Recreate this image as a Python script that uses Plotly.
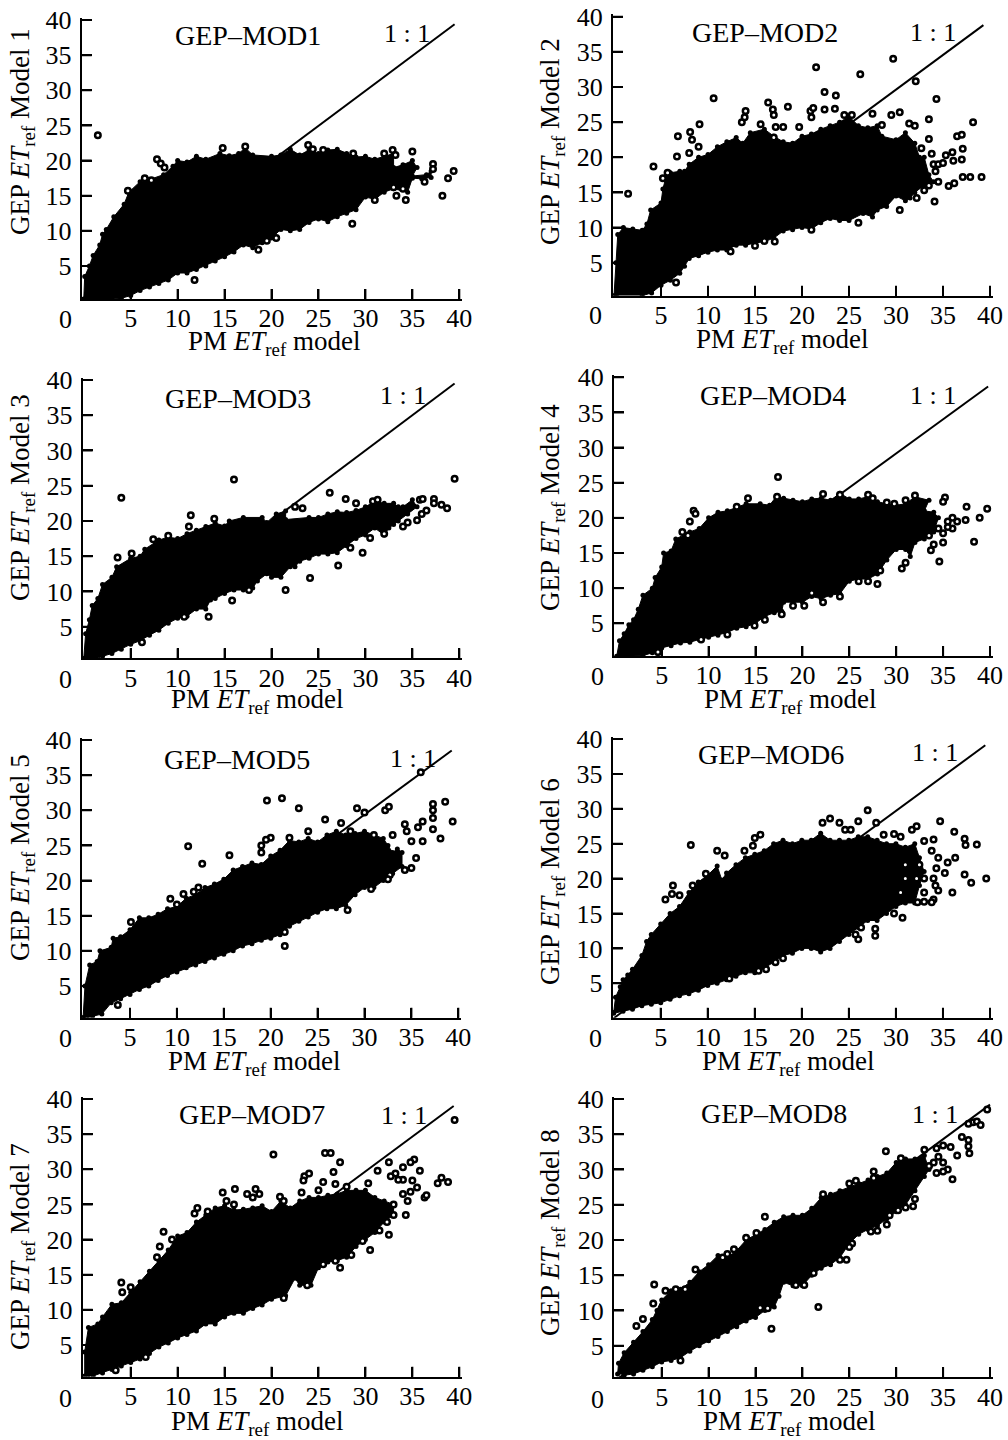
import plotly.graph_objects as go

# --- values: cloud outlines (x, y) and separate open points (x, y) ---
mod1_outline = [(0,0.3),(0.1,3.5),(0.6,5),(1,6.5),(1.7,8),(2,9.5),(2.4,10.2),(3.2,12),(4.3,13.8),(4.8,15.5),(6,17),(7,17.3),(8.5,18),(9.5,19.2),(10,20),(11,19.8),(12,20.6),(13,20.2),(14.5,21),(15.5,20.7),(16.5,21),(17.2,21.8),(18,20.8),(20,20.6),(21,20.8),(22,21.6),(23,20.8),(24,21.5),(25,21),(26,21.5),(27,21.6),(28,21),(29,20.5),(30,20.6),(31,20.2),(32,20.6),(33,21),(33,19),(34,19.4),(35,20),(35.5,19),(35,17.8),(36.5,18),(37,18.5),(37,17.6),(36,17.4),(35,17.5),(34.5,15.5),(33,16),(32,15.5),(31,14.5),(30,14.8),(29,13),(28,12.5),(27,12),(26,11.3),(25,11.7),(24,11.2),(23,10.2),(22,10),(21,10.2),(20,9),(19,8.3),(18,7.6),(17,8),(16,7),(15,6.3),(14,5.7),(13,5),(12,4.5),(11,4),(10,4),(9,3),(8,2.5),(7,2),(6,1.5),(5,0.8),(4,0.4),(3,0.3)]
mod1_points = [(1.5,23.6),(7.8,20.2),(8.2,19.6),(8.6,19),(14.8,21.8),(17.2,22),(23.9,22.2),(24.4,21.6),(25.5,21.5),(28.7,21),(32.9,21.5),(35,21.3),(33.2,20.8),(37.2,19.5),(39.4,18.5),(38.8,17.5),(37.2,18.8),(36.3,17),(38.2,15),(33.3,15),(34.3,14.4),(34,16),(31,14.4),(28.6,11),(18.6,7.3),(11.8,3),(19.5,8.6),(20.5,9),(4.7,15.7),(6.5,17.5),(7.2,17.2),(33,16.2),(32,21)]

mod2_outline = [(0,0.3),(0.2,5),(0.4,9),(1,10),(2,9.8),(3,9.6),(3.5,10.5),(3.9,12.5),(5,13.5),(5.2,15.5),(5.5,17),(6,17.8),(7,18),(7.5,18),(8,19),(9,20),(10,20.4),(11,21.5),(12,22.2),(13,22.8),(13.7,22),(14.5,23.5),(16,24),(17,23),(18,22.2),(19,22),(20,23),(21,23.3),(22,24),(23,24.5),(24,25),(25,25.8),(26,24.5),(27,24.2),(28,24.5),(28.5,23),(30,22.5),(31,23.5),(32,22),(32.5,20),(33,20),(33.5,17.5),(34,16.5),(33,16),(32,15),(31.5,14.2),(31,13.8),(30,14.5),(29,13),(28,12.5),(27.5,11.5),(26.5,12),(25,11),(24,11),(23,11.3),(22,10.7),(21,9.8),(20,10),(19,9.7),(18,9.5),(17,8.5),(16,8),(15,7.8),(14,7.5),(13,7.5),(12,6.8),(11,6.8),(10,6.5),(9,6),(8,5.6),(7.5,4.5),(7,3.5),(6,2.5),(5,1.8),(4,0.7),(3,0.3)]
mod2_points = [(1.5,14.8),(4.2,18.7),(5.2,17),(5.7,17.8),(6.7,20.1),(6.8,23),(8.1,23.6),(8.3,22.5),(8,20.6),(9.1,24.7),(9,21.5),(10.6,28.4),(13.6,25),(13.9,25.7),(14,26.6),(16.4,27.8),(15.6,24.7),(16.9,26.8),(17,26),(17,22.8),(18.5,27.2),(17.2,24.3),(18,24.3),(19.7,24.3),(20.9,26.6),(21.2,27),(21,25.7),(21.5,32.8),(22.4,29.3),(23.6,28.8),(22.4,26.8),(23.5,26.9),(24.5,26),(25.3,26),(26.2,31.8),(27.5,26.2),(28.5,24.6),(29.5,26),(30.4,26.4),(31.4,24.8),(32,24.5),(32.1,30.8),(34.3,28.3),(33.5,25.4),(33.5,22.6),(32.7,21.3),(29.7,34),(36.5,23),(37,23.2),(37.1,21.2),(37,19.7),(38.2,25),(35.3,20.3),(36,20.7),(36.1,19.5),(39.1,17.2),(37.1,17.2),(37.9,17.2),(36.2,16.3),(35.6,15.9),(34.1,13.7),(33,15.3),(32.2,14.2),(30.4,12.5),(26,10.7),(21,9.7),(17.1,8),(16,8.1),(15,7.4),(12.4,6.6),(6.6,2.2),(34,19),(34.5,19),(33.8,20.5),(35,19.2),(34.2,18),(33.5,16),(34.5,16.5)]

mod3_outline = [(0,0.5),(0.2,4),(0.6,6),(0.9,8),(1.5,9),(2,11),(3,12),(3.5,13.5),(5,14.7),(6,15),(6.5,16),(8,17.3),(9,17.7),(10,17.5),(11,18.2),(12,18.7),(13,19.2),(14,19.7),(15,19.3),(15.5,20),(17,20.5),(19,20.5),(19.5,19.8),(20.5,21),(21.5,21.4),(21.5,20.2),(24,20.5),(25,20.5),(26,21),(27,21.3),(28,21.2),(29,21.5),(30,22),(31,22.8),(32,22.5),(33,22.5),(33.5,22),(34,22),(35,23),(35.5,22),(34.5,21),(33.5,20),(33,19.5),(32.5,19),(32,18),(31,19),(30,18),(29,17.5),(28,16.5),(27,15.5),(26,15.3),(25,15.3),(24,14.7),(23,14.3),(22.5,13.5),(22,13.5),(21,12),(20,12),(19.5,12.5),(18.5,11.5),(18,10.5),(17,10.2),(16,10.2),(15,9.7),(14,9),(13.5,8.8),(13,7.5),(12,7.5),(11,6.5),(10,6.2),(9,5.5),(8,4.5),(7,3.8),(6,3),(5,2.5),(4,1.8),(3,1.2),(2,0.8),(1,0.3),(0,0.3)]
mod3_points = [(4,23.3),(16,25.9),(39.5,26),(26.2,24),(27.9,23.1),(29,22.5),(22.5,22),(23.3,21.8),(30.8,22.8),(31.3,23),(11.4,20.8),(13.9,20.3),(11.2,19.2),(9,17.9),(7.4,17.4),(5.1,15.4),(3.6,14.8),(35.8,23),(36.1,23.1),(37.3,23.1),(37.3,22.5),(38.1,22.3),(38.7,21.8),(36.5,21.5),(36,21),(35.5,20.1),(34.5,19.8),(34,19.2),(28.4,16.2),(29.7,15.5),(27.1,13.7),(24.1,11.9),(21.5,10.2),(15.8,8.7),(13.3,6.4),(10.7,6.4),(6.2,2.8),(17.6,10.2),(32,18.2),(30.5,17.6)]

mod4_outline = [(0.2,0.3),(0.5,2.5),(1,3.5),(1.5,4.8),(2,5.5),(2.5,7),(3,9),(4,10),(4.3,11.5),(5,13),(5.2,15),(6,15.3),(6.5,17),(8,18),(9,18.5),(10,20),(11,20.8),(12,21),(13,21.5),(14,22),(15.5,22),(16.5,21.8),(17.2,23),(18,22.8),(19,22.5),(20,22.3),(21,22.7),(22,22.8),(23,22.5),(24,23.5),(25,22.7),(26,22.7),(27,23),(28,22.3),(29,22),(30,21.8),(31,22),(32,23),(33.5,22.5),(33,21),(34,20.8),(34.5,20),(34,18),(33,17),(32,16.5),(31.5,14.5),(31,15.5),(30,15.5),(29,14),(28,12),(27,11.3),(26,11.3),(25,11),(24,9.2),(23,9),(22,8.5),(21,8.8),(20,8),(19,8),(18,8),(17.8,6.7),(17,6.5),(16,6),(15,5),(14,4.5),(13,4.3),(12,3.7),(11,3.3),(10,3),(9,2.7),(8,2.3),(7,2.2),(6,1.8),(5,1.5),(4,0.8),(3,0.4),(1,0.3)]
mod4_points = [(17.4,25.8),(17.3,23),(14.2,22.8),(13,21.6),(8.4,21),(8.6,20.6),(8,19.5),(7.2,18),(7.8,17.5),(22.2,23.4),(24,23.3),(27,23.3),(27.5,22.8),(29,22.2),(29.8,22),(31,22.5),(32,23.2),(35.2,22.9),(35,22.3),(37.5,21.6),(39.7,21.3),(38.9,20),(37.4,19.7),(36,20),(36.5,19.5),(36,18.5),(35.5,18.7),(35,17.8),(35,16.5),(34,16.2),(33.7,15.4),(38.3,16.6),(34.6,13.8),(30.6,12.8),(31,13.6),(28.3,12.5),(28,10.6),(27,11),(26,11),(24,8.8),(22.2,8),(21,9.3),(19,7.5),(20.2,7.5),(17.8,6.3),(16,5.5),(14.9,4.7),(12,3.4),(9.2,2.7),(4.6,0.9),(34.5,18.5),(33.5,17.5),(35.5,19.5)]

mod5_outline = [(0,0.5),(0.2,5),(0.7,8),(1.5,8.5),(1.8,10),(3,10.5),(3.2,11.8),(4,12),(5,13),(6,14.7),(7,14.7),(8,15.2),(9,16),(10,16.3),(11,17.5),(12,18),(13,19),(14,19.5),(15,20.2),(16,21.5),(17,22),(18,22.5),(19,22.3),(20,23.5),(21,24.3),(22,25.7),(23,25.5),(24,26),(25,25.5),(26,26.5),(27,27),(28,26.5),(29,26.7),(30,27),(31,26.5),(32,26),(32.5,25),(33,24),(33.5,24.5),(34,24),(34,22),(33,21),(32,20),(31,19),(30,19),(29,18),(28,16.5),(27,16),(26,16),(25,15.5),(24,14.8),(23,14.2),(22,13.5),(21,12.3),(20,11.8),(19,11.5),(18,11),(17,10.7),(16,10),(15,9.5),(14,9),(13,8.5),(12,8),(11,7.6),(10,7),(9,6.5),(8,5.8),(7,5),(6,4.5),(5,3.8),(4,3.2),(3,2.6),(2,1),(1,0.7),(0,0.5)]
mod5_points = [(3.7,2.3),(21.5,10.7),(21.5,12.7),(28.2,15.8),(30.7,18.8),(11.2,24.9),(12.7,22.4),(15.6,23.6),(19.6,31.4),(21.2,31.7),(23,30.3),(25.8,28.7),(29.2,30.3),(30,29.7),(32.2,30),(32.6,30.5),(27.5,28.2),(28.5,27),(20,26.1),(19,25),(19.5,25.8),(19,24),(22,26.1),(24,27),(37.3,30.9),(37.3,30),(37.3,28.9),(38.6,31.2),(39.4,28.4),(37.3,27.3),(38.1,26),(36.2,28.4),(35.7,27.6),(34.3,28),(34.5,27),(35,25.6),(36.2,25.6),(35.5,23.2),(35,21.8),(34.3,21.5),(32.7,20.8),(32.5,20.2),(33,26.5),(9.3,17.4),(10.7,18.1),(10,16.6),(11.8,18.4),(12.3,19),(5.1,14.1),(36,35.4),(31,26.5)]

mod6_outline = [(0,0.8),(0.2,3),(0.7,4.5),(1,5.5),(1.5,6.2),(2,7),(3,9),(3.5,11),(4,12),(5,13.5),(6,15),(7,16),(8,18),(9,19.5),(10,20.5),(11,21.8),(11.5,19.8),(12,20.8),(13,22),(14,23),(15,23.5),(16,24),(17,25),(18,25.5),(19,25),(20,25.5),(21,25.5),(22,26.5),(23,25.5),(24,25.5),(25,25.5),(26,26),(27,26),(28,25.5),(29,25),(30,25),(31,24.5),(32,25),(32.5,23),(33,21),(32.5,19),(32,16.5),(31,16.5),(30,16),(29,15),(28,14),(27,14),(26,13),(25,12),(24,11),(23,10),(22,9.5),(21,10),(20,10),(19,9.3),(18,9),(17,8),(16,7.2),(15,6.5),(14,6.5),(13,6),(12,5.5),(11,5),(10,4.7),(9,4),(8,3.5),(7,3.2),(6,2.7),(5,2.2),(4,2),(3,1.8),(2,1.3),(1,1),(0,0.7)]
mod6_points = [(8.2,24.8),(11,24),(11.8,23.3),(13.9,24),(14.8,24.7),(15,25.8),(15.6,26.3),(6.3,19),(7,17.6),(5.5,17),(6.2,17.8),(8.4,19),(9.8,20.7),(23,28.6),(22.2,28),(24,28),(24.6,27),(25.2,27),(26,28.2),(27,29.8),(27.9,28),(28.7,26.3),(29.8,26.4),(30.5,26),(31.7,27),(32.2,27.5),(33,25.4),(34.7,28.2),(34,25.6),(36.2,26.7),(37.3,25.7),(37.4,24.8),(38.6,24.9),(37.3,20.6),(38,19.4),(39.6,20),(36,18),(34.5,18.3),(34,17),(33.8,16.6),(33,16.7),(32.3,16.6),(30.7,14.4),(29.8,15),(27.8,12.8),(27.8,11.8),(26,11.3),(25.7,12),(26.3,13),(16.2,7),(15.4,6.8),(17.2,8),(18,8.6),(12.3,5.7),(36.3,23),(35.5,22.3),(34.5,23),(33.8,24),(33,20),(34,20),(35.2,20.8),(34.3,21.5),(34.2,19),(33,18),(31,20),(31,22),(30.5,18),(32.5,22),(32.2,20)]

mod7_outline = [(0.1,0.6),(0.1,4),(0.5,7.5),(1.5,8),(2,9),(3,10.8),(4,11),(5,12.5),(6,14),(7,15.5),(8,17),(9,18.5),(10,20.5),(11,21),(12,22.5),(13,23.5),(14,24.5),(15,24.8),(16,24.2),(17,24.3),(18,24.5),(19,24.8),(20,24),(21,25.5),(22,24.5),(23,25.5),(24,26),(25,26),(26,26.3),(27,26.5),(28,27),(29,27),(30,27),(31,26),(32,25.5),(33,25),(33,23.5),(32,22.5),(31,21),(30,20),(29,19),(28,17.5),(27,17),(26,16.8),(25,16),(24.2,13.5),(23,13.5),(22.5,14.5),(21.5,12),(20,11.5),(19,10.7),(18,10.2),(17,9.5),(16,9.5),(15,9),(14,8),(13,8),(12,7),(11,6.5),(10,6),(9,5.3),(8,4.7),(7,3.8),(6,3),(5,2.5),(4,2),(3,1.5),(2,1),(1,0.6)]
mod7_points = [(3.4,1.4),(6.6,3.3),(4,13.9),(5,13.2),(4.1,12.5),(7.8,17.5),(8.1,19),(8.5,21.1),(9.4,20),(12.1,24.5),(11.8,23.7),(13.2,24),(14.8,26.7),(16.1,27.2),(15.2,25.5),(16,25),(17.4,26.5),(18.3,27.2),(18,26),(18.7,26.5),(20.2,32.1),(25.7,32.3),(26.3,32.3),(27.3,31),(23.5,29),(24,29.4),(23.4,28.4),(25.5,28.2),(26.6,29.6),(26.8,27.9),(20.9,26.1),(21.3,25.5),(23.2,26.7),(25,27),(28,27.5),(30.3,28),(31.3,29.8),(32.5,31),(33.2,29.4),(34,30.3),(35.2,31.4),(34.8,31),(35.8,29.8),(35,28.4),(35.5,27.4),(36.3,26),(34,28.5),(33.5,28.5),(32.7,29),(37.7,28),(38.1,28.8),(38.8,28.2),(39.5,37),(34.5,25.5),(34,26.5),(34.8,26.8),(34.3,23.5),(33,25),(32.5,20.7),(30.5,18.5),(29.7,19.8),(31.5,21.3),(28.5,17.8),(27.3,16),(26.8,17),(25.5,16.5),(21.3,11.7),(23.8,13.5),(33,23.5),(32.3,22.5),(36.5,26.3)]

mod8_outline = [(0.3,1),(0.4,2.5),(1,4),(2,5.5),(3,7),(4,8.7),(4.5,10),(5,11.5),(6,12.8),(7,13),(8,14),(9,15.5),(10,16.5),(11,17.8),(12,17.5),(13,18.5),(14,20),(15,20.8),(16,21.5),(17,22.5),(18,23.3),(19,23.5),(20,23.5),(21,24.5),(22,26),(23,26.5),(24,27),(25,27.5),(26,28),(27,28.5),(28,29),(29,29.5),(30,31),(31,31.5),(32,31.5),(33,32),(33.5,30),(33,29),(32,27),(31,25),(30,24),(29,23),(28,22),(27,21.5),(26,20.8),(25,19.5),(24,17.5),(23,16.5),(22,16),(21,15),(20,13.5),(19,13.5),(18,14),(17.5,12),(17,10.5),(16,10),(15,9),(14,8.5),(13,7.7),(12,7),(11,6.3),(10,5.7),(9,5),(8,4.2),(7,3.3),(6,2.9),(5,2.7),(4,2),(3,1.5),(2,1),(1,0.8)]
mod8_points = [(4.2,13.7),(5.4,12.8),(6.5,13),(7.5,13),(4.1,11),(3,8.8),(2.3,7.8),(8.6,15.8),(11.5,17.5),(12.7,18.7),(12,18),(14,20.3),(15.1,21),(16,23.3),(22.2,26.5),(25,28),(25.7,28.4),(27.6,29.7),(27.6,28.8),(28.9,32.6),(30.5,31.6),(33,32.8),(34.3,33),(35,33.4),(34.5,31.8),(35.8,33.2),(36.5,32),(37.7,33.3),(37.8,32.3),(37.7,34.2),(37,34.6),(38.2,36.7),(38.6,36.8),(39,36.3),(37.7,36.5),(39.7,38.5),(35.5,30),(35,31),(36,28.6),(34.3,29.5),(33.5,30.5),(34,31),(35,29.7),(21.7,10.5),(16.7,7.4),(16.3,10.3),(15.5,10.4),(19.3,13.6),(20.2,13.6),(21.2,15.3),(24,17.2),(24.7,17.2),(25.3,19.5),(25,19),(27.3,21.2),(28,21.3),(29,22.2),(29.3,23.5),(30.2,24.2),(31,24.6),(31.8,24.8),(32,25.8),(7,2.9)]

outlines = [mod1_outline, mod2_outline, mod3_outline, mod4_outline, mod5_outline, mod6_outline, mod7_outline, mod8_outline]
points = [mod1_points, mod2_points, mod3_points, mod4_points, mod5_points, mod6_points, mod7_points, mod8_points]

# 1:1 reference line ends (x, y)
line_ends = [(39.5, 39.4), (39.3, 38.8), (39.5, 39.5), (39.8, 38.7), (39.3, 38.5), (39.5, 39.1), (39.4, 39.0), (40, 39.2)]

tick_values = [5, 10, 15, 20, 25, 30, 35, 40]
panel_titles = ["GEP\u2013MOD%d" % i for i in range(1, 9)]

# --- layout in page pixels ---
# left, x at 5, x at 40, y at 40, y at 5, bottom
geom = [
    (81.7, 130.7, 459.3, 20.0, 266.0, 299.0),
    (613.0, 661.0, 990.0, 16.7, 262.7, 295.7),
    (82.7, 130.7, 459.3, 380.0, 626.7, 658.3),
    (614.0, 661.7, 990.0, 377.3, 623.3, 656.0),
    (81.7, 130.0, 458.3, 740.0, 986.0, 1017.7),
    (612.7, 660.7, 990.0, 739.0, 983.3, 1017.7),
    (82.7, 130.7, 459.3, 1099.0, 1345.0, 1376.7),
    (614.0, 661.7, 990.0, 1099.0, 1345.7, 1377.3),
]
# pixel centres: x title, y title, panel title, "1 : 1", "0" label
text_pos = [
    ((274, 343), (22, 132), (248, 35), (407, 33), (65, 319)),
    ((782, 341), (552, 142), (765, 32), (933, 32), (595, 315)),
    ((257, 701), (22, 498), (238, 398), (403, 395), (65, 679)),
    ((790, 701), (552, 508), (773, 395), (933, 395), (597, 676)),
    ((254, 1063), (22, 858), (237, 759), (413, 758), (65, 1038)),
    ((788, 1063), (552, 882), (771, 754), (935, 752), (595, 1038)),
    ((257, 1423), (22, 1247), (252, 1114), (404, 1115), (65, 1398)),
    ((789, 1423), (552, 1233), (774, 1113), (935, 1114), (597, 1399)),
]

W, H = 1008, 1440
SERIF = "Liberation Serif"
TICK_PX = 10
fig = go.Figure()
layout = dict(width=W, height=H, margin=dict(l=0, r=0, t=0, b=0), showlegend=False,
              template="none", annotations=[], shapes=[])


def note(xy, text, size=27, angle=0):
    layout["annotations"].append(dict(
        x=xy[0] / W, y=1 - xy[1] / H, xref="paper", yref="paper", text=text,
        showarrow=False, xanchor="center", yanchor="middle", textangle=angle,
        font=dict(family=SERIF, size=size, color="black")))


EXTRA = 2.5  # px past the 40 tick, so that plotly keeps that tick
for i in range(8):
    left, x5, x40, top, y5, bottom = geom[i]
    suffix = "" if i == 0 else str(i + 1)
    xname, yname = "x" + suffix, "y" + suffix
    x_scale = (x40 - x5) / 35
    y_scale = (y5 - top) / 35
    x_low = 5 - (x5 - left) / x_scale
    y_low = 5 - (bottom - y5) / y_scale

    axis = dict(showgrid=False, zeroline=False, showline=True, linecolor="black", linewidth=2,
                automargin=False,
                ticks="inside", ticklen=TICK_PX, tickwidth=2, tickcolor="black",
                tickvals=tick_values, ticktext=[str(v) for v in tick_values],
                tickfont=dict(family=SERIF, size=26, color="black"))
    layout["xaxis" + suffix] = dict(axis, domain=[left / W, (x40 + EXTRA) / W],
                                    range=[x_low, 40 + EXTRA / x_scale],
                                    anchor=yname, ticklabelstandoff=-5)
    layout["yaxis" + suffix] = dict(axis, domain=[1 - bottom / H, 1 - (top - EXTRA) / H],
                                    range=[y_low, 40 + EXTRA / y_scale],
                                    anchor=xname, ticklabelstandoff=3)

    # tick marks placed through each axis's own scale
    x_frac = TICK_PX / (x40 + EXTRA - left)
    y_frac = TICK_PX / (bottom - top + EXTRA)
    for v in tick_values:
        layout["shapes"].append(dict(type="line", xref=xname, yref=yname + " domain",
                                     x0=v, x1=v, y0=0, y1=y_frac,
                                     line=dict(color="black", width=2)))
        layout["shapes"].append(dict(type="line", xref=xname + " domain", yref=yname,
                                     x0=0, x1=x_frac, y0=v, y1=v,
                                     line=dict(color="black", width=2)))

    fig.add_trace(go.Scatter(x=[0, line_ends[i][0]], y=[0, line_ends[i][1]], mode="lines",
                             line=dict(color="black", width=2), xaxis=xname, yaxis=yname))
    fig.add_trace(go.Scatter(x=[p[0] for p in outlines[i]], y=[p[1] for p in outlines[i]],
                             mode="lines+markers", fill="toself", fillcolor="black",
                             line=dict(color="black", width=1),
                             marker=dict(color="black", size=5),
                             xaxis=xname, yaxis=yname))
    fig.add_trace(go.Scatter(x=[p[0] for p in points[i]], y=[p[1] for p in points[i]],
                             mode="markers",
                             marker=dict(color="white", size=5.5, line=dict(color="black", width=2.5)),
                             xaxis=xname, yaxis=yname))

    xt, yt, pt, ot, zt = text_pos[i]
    note(xt, "PM <i>ET</i><sub>ref</sub> model")
    note(yt, "GEP <i>ET</i><sub>ref</sub> Model %d" % (i + 1), 27, -90)
    note(pt, panel_titles[i], 28)
    note(ot, "1 : 1", 26)
    note(zt, "0", 26)

fig.update_layout(**layout)
fig.write_html("out.html", config={"displayModeBar": False},
               post_script="document.body.style.margin='0';document.documentElement.style.overflow='hidden';")
